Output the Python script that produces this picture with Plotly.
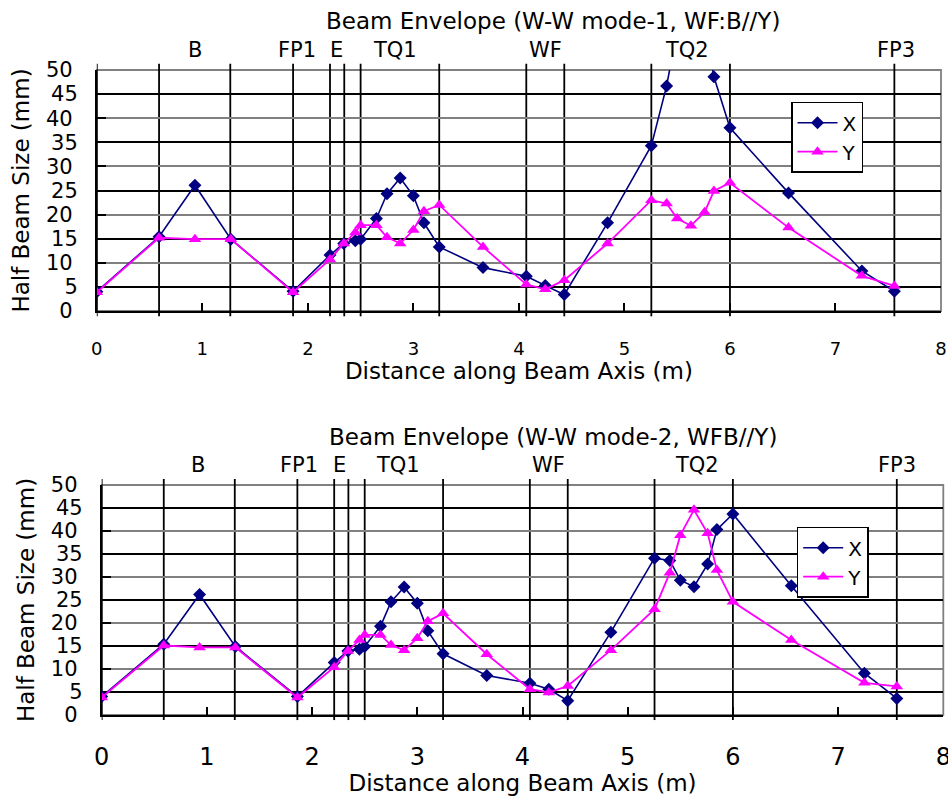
import plotly.graph_objects as go

# ---- data -------------------------------------------------------------
# positions along the beam axis (m)
s_pos = [0.0, 0.59, 0.93, 1.27, 1.86, 2.21, 2.34, 2.45, 2.50, 2.65,
         2.75, 2.875, 3.0, 3.10, 3.245, 3.66, 4.07, 4.25, 4.43, 4.84,
         5.255, 5.40, 5.50, 5.63, 5.76, 5.848, 6.0, 6.555, 7.25, 7.558]

# mode-1 half beam sizes (mm)
mode1_x = [4.0, 15.4, 26.1, 14.9, 4.1, 11.6, 14.0, 14.6, 14.9, 19.2,
           24.3, 27.6, 23.9, 18.3, 13.3, 9.0, 7.2, 5.3, 3.4, 18.3,
           34.3, 46.7, 58.5, 63.0, 59.0, 48.6, 38.0, 24.5, 8.3, 4.1]
mode1_y = [3.9, 15.2, 14.9, 14.9, 3.9, 10.7, 14.0, 16.3, 17.8, 17.8,
           15.3, 14.0, 16.8, 20.7, 22.0, 13.3, 5.5, 4.5, 6.4, 14.0,
           23.0, 22.3, 19.2, 17.7, 20.5, 24.9, 26.6, 17.3, 7.3, 5.2]

# mode-2 half beam sizes (mm)
mode2_x = [4.0, 15.4, 26.2, 14.9, 4.0, 11.4, 13.9, 14.3, 14.9, 19.3,
           24.6, 27.8, 24.3, 18.3, 13.3, 8.6, 6.9, 5.6, 3.1, 18.0,
           34.1, 33.6, 29.3, 27.9, 32.8, 40.3, 43.7, 28.1, 9.1, 3.6]
mode2_y = [3.8, 15.1, 14.7, 14.7, 3.8, 10.4, 13.9, 16.3, 17.4, 17.4,
           15.2, 14.1, 16.7, 20.4, 22.1, 13.2, 5.6, 4.9, 6.3, 14.1,
           23.0, 30.9, 39.1, 44.6, 39.5, 31.5, 24.6, 16.3, 7.0, 6.2]

# element boundaries (m)
boundaries = [0.0, 0.59, 1.265, 1.86, 2.21, 2.345, 2.50, 3.245,
              4.07, 4.43, 5.255, 6.0, 7.558]

# element names and where their labels sit
elements = ["B", "FP1", "E", "TQ1", "WF", "TQ2", "FP3"]
label_pos_1 = [0.93, 1.895, 2.27, 2.83, 4.25, 5.59, 7.57]
label_pos_2 = [0.92, 1.88, 2.265, 2.82, 4.245, 5.66, 7.56]

titles = ["Beam Envelope (W-W mode-1, WF:B//Y)",
          "Beam Envelope (W-W mode-2, WFB//Y)"]
y_major = list(range(0, 51, 10))     # gray grid
y_minor = list(range(5, 50, 10))     # black grid
x_ticks = list(range(0, 9))
X_RANGE = [0, 8]
Y_RANGE = [0, 50]

# ---- layout helpers ---------------------------------------------------
W, H = 948, 796
FONT = "DejaVu Sans"
NAVY = "#000080"
MAGENTA = "#FF00FF"
GRAY = "#808080"


def xd(a, b):
    return [a / W, b / W]


def yd(top, bottom):
    return [1 - bottom / H, 1 - top / H]


panels = [
    dict(x=xd(96.8, 941.0), y=yd(70, 311), xs="x", ys="y", ys_odd="y3",
         xa="xaxis", ya="yaxis", ya_odd="yaxis3",
         xs_dom="x domain", ys_dom="y domain", legend="legend",
         data=(mode1_x, mode1_y), labels=label_pos_1, title=titles[0],
         title_y=21, leg=(791, 101.7), xtick_size=18, xtick_off=20, xtitle_off=4),
    dict(x=xd(101.7, 943.3), y=yd(485, 715), xs="x2", ys="y2", ys_odd="y4",
         xa="xaxis2", ya="yaxis2", ya_odd="yaxis4",
         xs_dom="x2 domain", ys_dom="y2 domain", legend="legend2",
         data=(mode2_x, mode2_y), labels=label_pos_2, title=titles[1],
         title_y=437, leg=(796.7, 526.7), xtick_size=24, xtick_off=19, xtitle_off=0),
]

fig = go.Figure()
shapes = []
annotations = []
layout = dict(
    template="none",
    width=W, height=H, margin=dict(l=0, r=0, t=0, b=0, autoexpand=False),
    paper_bgcolor="white", plot_bgcolor="white",
    font=dict(family=FONT, color="black", size=20),
    showlegend=True,
)

for p in panels:
    xs, ys = p["xs"], p["ys"]
    vx, vy = p["data"]
    fig.add_trace(go.Scatter(
        x=s_pos, y=vx, name="X", mode="lines+markers", xaxis=xs, yaxis=ys,
        line=dict(color=NAVY, width=1.6),
        marker=dict(symbol="diamond", size=10, color=NAVY),
        legend=p["legend"]))
    # Y series sits on the twin axis that carries the odd labels (same scale)
    fig.add_trace(go.Scatter(
        x=s_pos, y=vy, name="Y", mode="lines+markers", xaxis=xs, yaxis=p["ys_odd"],
        line=dict(color=MAGENTA, width=1.8),
        marker=dict(symbol="triangle-up", size=11, color=MAGENTA),
        legend=p["legend"]))

    layout[p["xa"]] = dict(
        domain=p["x"], anchor=ys, range=X_RANGE, tickvals=x_ticks,
        ticks="inside", ticklen=8, tickwidth=1.5, tickcolor="black",
        showline=True, linecolor="black", linewidth=1.8,
        showgrid=False, zeroline=False, automargin=False,
        ticklabeloverflow="allow",
        tickfont=dict(size=p["xtick_size"]), ticklabelstandoff=p["xtick_off"],
        title=dict(text="Distance along Beam Axis (m)", font=dict(size=23),
                   standoff=p["xtitle_off"]),
    )
    layout[p["ya"]] = dict(
        domain=p["y"], anchor=xs, range=Y_RANGE, tickvals=y_major,
        ticks="inside", ticklen=9, tickwidth=1.5, tickcolor="black",
        showline=True, linecolor="black", linewidth=1.8,
        showgrid=True, gridcolor=GRAY, gridwidth=1.8,
        minor=dict(tickvals=y_minor, showgrid=True, gridcolor="black",
                   gridwidth=1.8, ticks=""),
        zeroline=False, automargin=False,
        tickfont=dict(size=21), ticklabelstandoff=18,
        title=dict(text="Half Beam Size (mm)", font=dict(size=23), standoff=10),
    )
    layout[p["ya_odd"]] = dict(
        overlaying=ys, anchor=xs, side="left", range=Y_RANGE, tickvals=y_minor,
        ticks="", showline=False, showgrid=False, zeroline=False,
        automargin=False, tickfont=dict(size=21), ticklabelstandoff=18,
    )

    # plot area frame
    shapes.append(dict(
        type="rect", xref=p["xs_dom"], yref=p["ys_dom"], x0=0, x1=1, y0=0, y1=1,
        line=dict(color=GRAY, width=1.8), layer="below"))
    # element boundaries, running a little past the frame
    for b in boundaries:
        shapes.append(dict(
            type="line", xref=xs, yref=p["ys_dom"], x0=b, x1=b, y0=-0.022, y1=1.026,
            line=dict(color="black", width=1.8), layer="below"))

    # element names above the frame
    for name, pos in zip(elements, p["labels"]):
        annotations.append(dict(
            text=name, x=pos, y=1, xref=xs, yref=p["ys_dom"],
            yanchor="bottom", xanchor="center", yshift=6, showarrow=False,
            font=dict(size=21)))

    annotations.append(dict(
        text=p["title"], x=553 / W, y=1 - p["title_y"] / H, xref="paper", yref="paper",
        xanchor="center", yanchor="middle", showarrow=False, font=dict(size=23)))

    lx, ly = p["leg"]
    layout[p["legend"]] = dict(
        x=lx / W, y=1 - ly / H, xanchor="left", yanchor="top",
        bgcolor="white", bordercolor="black", borderwidth=1.5,
        font=dict(size=20), tracegroupgap=0, itemwidth=40,
    )

layout["shapes"] = shapes
layout["annotations"] = annotations
fig.update_layout(**layout)

fig.write_html("out.html")
